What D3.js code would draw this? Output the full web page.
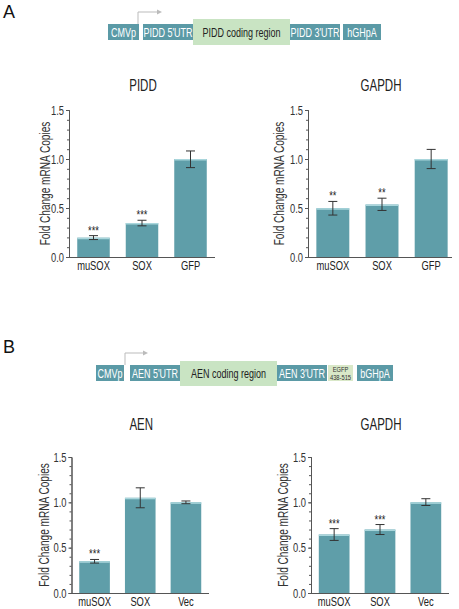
<!DOCTYPE html>
<html><head><meta charset="utf-8">
<script src="https://cdn.jsdelivr.net/npm/d3@7"></script>
<style>body{margin:0;background:#fff}svg{display:block}text{font-family:"Liberation Sans",Arial,sans-serif}</style>
</head><body><svg id="c" width="459" height="609"></svg>
<script>
// ---- data ----
const catsA = ["muSOX","SOX","GFP"];
const piddVals = [0.197, 0.347, 1.0];
const piddLo = [0.178, 0.318, 0.912];
const piddHi = [0.218, 0.375, 1.082];
const piddStars = ["***","***",""];
const gapdhAVals = [0.497, 0.535, 1.0];
const gapdhALo = [0.428, 0.475, 0.902];
const gapdhAHi = [0.567, 0.6, 1.098];
const gapdhAStars = ["**","**",""];
const catsB = ["muSOX","SOX","Vec"];
const aenVals = [0.35, 1.05, 1.0];
const aenLo = [0.33, 0.94, 0.985];
const aenHi = [0.37, 1.16, 1.015];
const aenStars = ["***","",""];
const gapdhBVals = [0.645, 0.70, 1.0];
const gapdhBLo = [0.58, 0.645, 0.965];
const gapdhBHi = [0.71, 0.755, 1.04];
const gapdhBStars = ["***","***",""];
const yTicks = [0, 0.5, 1.0, 1.5];
const constructA = ["CMVp","PIDD 5'UTR","PIDD coding region","PIDD 3'UTR","hGHpA"];
const constructB = ["CMVp","AEN 5'UTR","AEN coding region","AEN 3'UTR","EGFP|438-515","bGHpA"];

const svg = d3.select("#c");
const BAR = "#5f9ea9", BOX = "#5b9aa6", GREEN = "#c9e4c3", GREEN2 = "#d9e8c8";
const K = 0.72; // horizontal condensing of text

function condense(sel){
  sel.each(function(){
    const t = d3.select(this);
    const x = +t.attr("x")||0, y = +t.attr("y")||0;
    const tr = t.attr("transform")||"";
    t.attr("x",0).attr("y",0).attr("transform",`${tr} translate(${x},${y}) scale(${K},1)`);
  });
}

function chart(o){
  const g = svg.append("g");
  const x = d3.scaleBand().domain(o.cats).range([o.x0, o.x1]).paddingInner(0.33).paddingOuter(0.17);
  const y = d3.scaleLinear().domain([0,1.5]).range([o.y0, o.y1]);
  g.selectAll("rect.bar").data(o.cats).join("rect")
    .attr("x", d=>x(d)).attr("width", x.bandwidth())
    .attr("y", (d,i)=>y(o.vals[i])).attr("height", (d,i)=>y(0)-y(o.vals[i]))
    .attr("fill", BAR);
  g.selectAll("line.top").data(o.cats).join("line")
    .attr("x1", d=>x(d)).attr("x2", d=>x(d)+x.bandwidth())
    .attr("y1",(d,i)=>y(o.vals[i])+0.75).attr("y2",(d,i)=>y(o.vals[i])+0.75)
    .attr("stroke","#a9d6dc").attr("stroke-width",1.5);
  const cw = 4.5;
  o.cats.forEach((c,i)=>{
    const cx = x(c)+x.bandwidth()/2;
    g.append("line").attr("x1",cx).attr("x2",cx).attr("y1",y(o.lo[i])).attr("y2",y(o.hi[i])).attr("stroke","#333").attr("stroke-width",1);
    [o.lo[i],o.hi[i]].forEach(v=>g.append("line").attr("x1",cx-cw).attr("x2",cx+cw).attr("y1",y(v)).attr("y2",y(v)).attr("stroke","#333").attr("stroke-width",1));
    if(o.stars[i]) g.append("text").attr("x",cx).attr("y",y(o.hi[i])-1).attr("text-anchor","middle").attr("font-size",13).attr("fill","#222").text(o.stars[i]);
  });
  const ya = g.append("g").attr("transform",`translate(${o.x0},0)`)
    .call(d3.axisLeft(y).tickValues(yTicks).tickFormat(d3.format(".1f")).tickSize(3).tickPadding(2));
  ya.append("g").call(d3.axisLeft(y).tickValues(d3.range(0,1.51,0.1)).tickFormat("").tickSize(2));
  ya.selectAll("path,line").attr("stroke","#555");
  ya.selectAll("text").attr("font-size",13).attr("fill","#333").style("font-family",'"Liberation Sans",Arial,sans-serif');
  const xa = g.append("g").attr("transform",`translate(0,${o.y0})`)
    .call(d3.axisBottom(x).tickSize(0).tickPadding(4));
  xa.select("path").attr("d",`M${o.x0},0.5H${o.xe}`).attr("stroke","#555");
  xa.selectAll("text").attr("font-size",13).attr("fill","#222").style("font-family",'"Liberation Sans",Arial,sans-serif');
  g.append("text").attr("x",(o.x0+o.xe)/2+1).attr("y",o.ty).attr("text-anchor","middle").attr("font-size",16).attr("fill","#222").text(o.title);
  g.append("text").attr("transform",`translate(${o.lx},${(o.y0+o.y1)/2}) rotate(-90)`).attr("dy","0.35em").attr("text-anchor","middle").attr("font-size",14).attr("fill","#333").text("Fold Change mRNA Copies");
}

chart({cats:catsA, vals:piddVals, lo:piddLo, hi:piddHi, stars:piddStars, x0:69, x1:215, xe:215, y0:257, y1:110, title:"PIDD", ty:91, lx:45});
chart({cats:catsA, vals:gapdhAVals, lo:gapdhALo, hi:gapdhAHi, stars:gapdhAStars, x0:308, x1:456, xe:452, y0:257, y1:110, title:"GAPDH", ty:91, lx:279});
chart({cats:catsB, vals:aenVals, lo:aenLo, hi:aenHi, stars:aenStars, x0:71.5, x1:209, xe:209, y0:593, y1:457, title:"AEN", ty:430, lx:44});
chart({cats:catsB, vals:gapdhBVals, lo:gapdhBLo, hi:gapdhBHi, stars:gapdhBStars, x0:311, x1:449, xe:449, y0:593, y1:457, title:"GAPDH", ty:430, lx:283});

function construct(labels, xs, ws, top, bot, gtop, gbot, arrowX, arrowTop, arrowEnd){
  const g = svg.append("g");
  labels.forEach((l,i)=>{
    const coding = /coding/.test(l), egfp = /EGFP/.test(l);
    const y0 = coding ? gtop : top, y1 = coding ? gbot : bot;
    g.append("rect").attr("x",xs[i]).attr("y",y0).attr("width",ws[i]).attr("height",y1-y0)
      .attr("fill", coding ? GREEN : egfp ? GREEN2 : BOX);
    if(egfp){
      const p = l.split("|");
      g.append("text").attr("x",xs[i]+ws[i]/2).attr("y",top+7).attr("text-anchor","middle").attr("font-size",8).attr("fill","#333").text(p[0]);
      g.append("text").attr("x",xs[i]+ws[i]/2).attr("y",top+14.5).attr("text-anchor","middle").attr("font-size",8).attr("fill","#333").text(p[1]);
    } else {
      g.append("text").attr("x",xs[i]+ws[i]/2).attr("y",(top+bot)/2+4.5).attr("text-anchor","middle")
        .attr("font-size",12.5).attr("fill", coding ? "#222" : "#fff").text(l);
    }
  });
  g.append("path").attr("d",`M${arrowX},${top}V${arrowTop}H${arrowEnd-4}`).attr("fill","none").attr("stroke","#bbb").attr("stroke-width",1);
  g.append("path").attr("d",`M${arrowEnd},${arrowTop}l-5,-2.5v5z`).attr("fill","#bbb");
}
construct(constructA, [108,143,193,290,343], [31,50,97,50,38], 24, 40, 19, 45, 138, 12, 162);
construct(constructB, [96,130,180,277,328,357], [28,50,97,50,25,36], 365, 381, 361, 386, 125, 353, 148);

condense(svg.selectAll("text"));

svg.append("text").attr("x",3).attr("y",18).attr("font-size",18).attr("fill","#111").text("A");
svg.append("text").attr("x",3).attr("y",353).attr("font-size",18).attr("fill","#111").text("B");
</script></body></html>
